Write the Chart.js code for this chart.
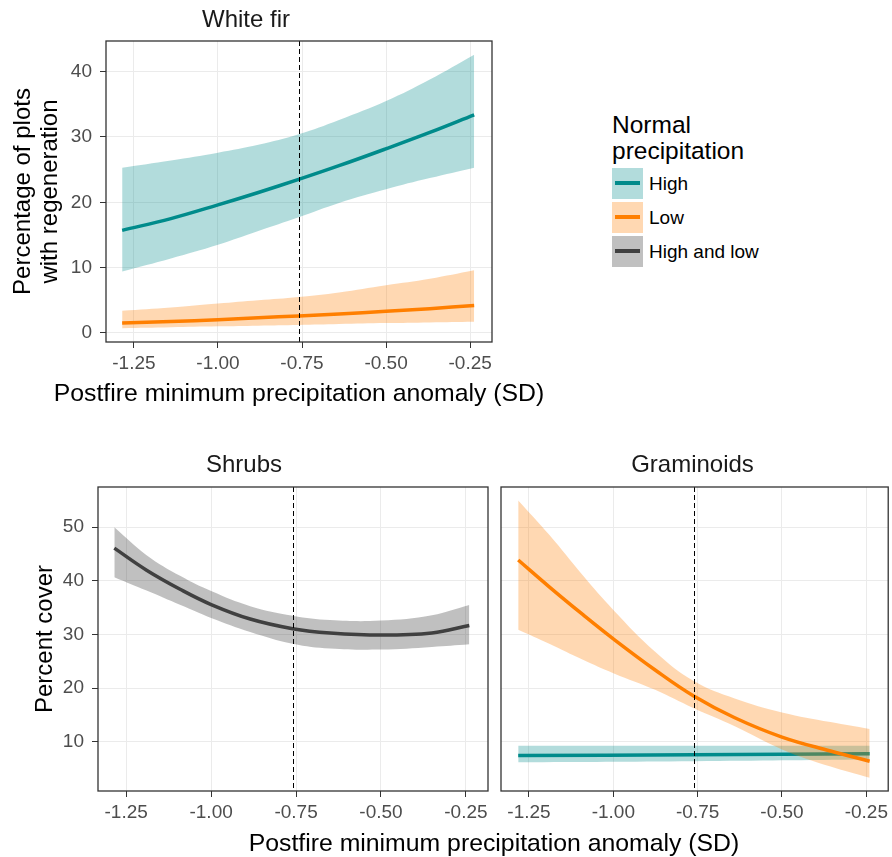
<!DOCTYPE html>
<html>
<head>
<meta charset="utf-8">
<script src="https://cdn.jsdelivr.net/npm/chart.js@4.4.1/dist/chart.umd.min.js"></script>
<style>
  body { margin: 0; background: #fff; font-family: "Liberation Sans", Arial, sans-serif; }
  #page { position: relative; width: 892px; height: 857px; overflow: hidden; }
  canvas { position: absolute; }
  #legend { position: absolute; left: 612px; top: 112px; color: #000; }
  #legend .lt { font-size: 24.5px; line-height: 26px; margin-bottom: 4px; }
  #legend .row { display: flex; align-items: center; height: 31px; margin-bottom: 3px; }
  #legend .key { position: relative; width: 31px; height: 31px; }
  #legend .key span { position: absolute; left: 3px; top: 13px; width: 25px; height: 4px; }
  #legend .lab { font-size: 19px; margin-left: 6px; }
  .xtitle { position: absolute; transform: translateX(-50%);
            font-size: 24.8px; line-height: 28px; white-space: nowrap; color: #000; }
</style>
</head>
<body>
<div id="page">
  <canvas id="fir" width="520" height="410" style="left:0;top:0"></canvas>
  <canvas id="shrubs" width="494" height="417" style="left:0;top:440px"></canvas>
  <canvas id="gram" width="398" height="417" style="left:494px;top:440px"></canvas>
  <div id="legend"></div>
  <div class="xtitle" style="left:299px;top:379px">Postfire minimum precipitation anomaly (SD)</div>
  <div class="xtitle" style="left:494px;top:829px">Postfire minimum precipitation anomaly (SD)</div>
</div>
<script>
// ---- data ----
const seriesNames = [ 'High', 'Low', 'High and low' ];
const xTicks = [ -1.25, -1.00, -0.75, -0.50, -0.25 ];
const firYTicks = [ 0, 10, 20, 30, 40 ];
const coverYTicks = [ 10, 20, 30, 40, 50 ];
const dashX = -0.76;

// White fir
const firX = [ -1.285, -1.14, -1.00, -0.88, -0.76, -0.64, -0.50, -0.37, -0.238 ];
const firHighMean  = [ 15.7, 17.5, 19.6, 21.5, 23.5, 25.6, 28.2, 30.7, 33.4 ];
const firHighLower = [ 9.4, 11.4, 13.5, 15.6, 17.7, 19.9, 22.0, 23.7, 25.3 ];
const firHighUpper = [ 25.3, 26.4, 27.6, 28.8, 30.4, 32.6, 35.5, 38.8, 42.6 ];
const firLowMean   = [ 1.5, 1.75, 2.0, 2.3, 2.6, 2.9, 3.3, 3.7, 4.2 ];
const firLowLower  = [ 0.7, 0.85, 1.0, 1.1, 1.2, 1.35, 1.5, 1.6, 1.7 ];
const firLowUpper  = [ 3.4, 3.9, 4.5, 5.0, 5.5, 6.2, 7.3, 8.3, 9.6 ];

// Shrubs
const shrubX = [ -1.285, -1.19, -1.09, -1.00, -0.885, -0.76, -0.65, -0.50, -0.35, -0.24 ];
const shrubMean  = [ 46.1, 42.0, 38.4, 35.6, 32.9, 31.1, 30.3, 29.9, 30.3, 31.7 ];
const shrubLower = [ 40.7, 38.2, 35.5, 33.1, 30.5, 28.3, 27.4, 27.2, 27.7, 28.2 ];
const shrubUpper = [ 50.0, 44.8, 40.9, 38.1, 35.3, 33.5, 32.7, 32.6, 33.6, 35.5 ];

// Graminoids
const gramLowX = [ -1.282, -1.19, -1.09, -1.00, -0.876, -0.763, -0.64, -0.50, -0.356, -0.24 ];
const gramLowMean  = [ 43.9, 38.9, 33.7, 29.2, 23.4, 18.6, 14.5, 10.9, 8.3, 6.4 ];
const gramLowLower = [ 30.9, 28.3, 25.3, 22.8, 19.7, 16.3, 12.9, 8.6, 5.4, 3.3 ];
const gramLowUpper = [ 55.0, 48.6, 41.0, 34.6, 26.8, 21.4, 18.1, 15.5, 13.7, 12.4 ];
const gramHighX = [ -1.282, -0.76, -0.24 ];
const gramHighMean  = [ 7.45, 7.6, 7.8 ];
const gramHighLower = [ 6.2, 6.4, 6.7 ];
const gramHighUpper = [ 9.3, 9.3, 9.3 ];

// ---- colours ----
const lineColors = [ '#008b8b', '#ff7f00', '#404040' ];
const fillColors = [ 'rgba(0,139,139,0.3)', 'rgba(255,127,0,0.3)', 'rgba(64,64,64,0.33)' ];

Chart.defaults.font.family = '"Liberation Sans", Arial, sans-serif';

function pts( xs, ys ) {
    return xs.map( ( x, i ) => ( { x: x, y: ys[ i ] } ) );
}

// line + ribbon (upper fills down to lower)
function bandSets( xs, mean, lower, upper, k, order ) {
    let edge = {
        pointRadius: 0, borderWidth: 0, borderColor: 'rgba(0,0,0,0)', tension: 0.4,
    };
    return [
        { data: pts( xs, mean ), borderColor: lineColors[ k ], borderWidth: 3.5,
          pointRadius: 0, tension: 0.4, fill: false, order: order },
        Object.assign( { data: pts( xs, upper ), fill: '+1', backgroundColor: fillColors[ k ], order: order + 1 }, edge ),
        Object.assign( { data: pts( xs, lower ), fill: false, order: order + 2 }, edge ),
    ];
}

// full panel border and the dashed reference line
const panelBox = {
    id: 'panelBox',
    afterDatasetsDraw( chart, args, opts ) {
        let { ctx, chartArea: a } = chart;
        let px = chart.scales.x.getPixelForValue( opts.dashX );
        ctx.save();
        ctx.strokeStyle = '#000';
        ctx.lineWidth = 1;
        ctx.setLineDash( [ 5, 3 ] );
        ctx.beginPath();
        ctx.moveTo( Math.round( px ) + 0.5, a.top );
        ctx.lineTo( Math.round( px ) + 0.5, a.bottom );
        ctx.stroke();
        ctx.setLineDash( [] );
        ctx.strokeStyle = '#333';
        ctx.lineWidth = 1.3;
        ctx.strokeRect( a.left, a.top, a.right - a.left, a.bottom - a.top );
        ctx.restore();
    }
};

function xAxis( height ) {
    return {
        type: 'linear', min: -1.333, max: -0.185,
        afterBuildTicks: s => { s.ticks = xTicks.map( v => ( { value: v } ) ); },
        afterFit: s => { s.height = height; },
        ticks: { callback: v => v.toFixed( 2 ), color: '#4d4d4d', font: { size: 19 },
                 padding: 4, maxRotation: 0, autoSkip: false },
        grid: { color: '#ebebeb', tickColor: '#333', tickLength: 6 },
        border: { display: false },
    };
}

function yAxis( min, max, ticks, width, title, showLabels ) {
    return {
        type: 'linear', min: min, max: max,
        afterBuildTicks: s => { s.ticks = ticks.map( v => ( { value: v } ) ); },
        afterFit: s => { s.width = width; },
        ticks: { display: showLabels, color: '#4d4d4d', font: { size: 19 }, padding: 8 },
        grid: { color: '#ebebeb', tickColor: '#333', tickLength: 6, drawTicks: showLabels },
        border: { display: false },
        title: title || { display: false },
    };
}

function panel( id, titleText, titlePad, datasets, xScale, yScale, padRight ) {
    new Chart( document.getElementById( id ), {
        type: 'line',
        data: { datasets: datasets },
        options: {
            responsive: false, devicePixelRatio: 1, animation: false,
            layout: { padding: { left: 0, top: 0, bottom: 0, right: padRight } },
            plugins: {
                legend: { display: false },
                tooltip: { enabled: false },
                filler: { propagate: false },
                title: { display: true, text: titleText, color: '#1a1a1a',
                         font: { size: 24, weight: 'normal', lineHeight: '27px' }, padding: titlePad },
                panelBox: { dashX: dashX },
            },
            scales: { x: xScale, y: yScale },
        },
        plugins: [ panelBox ],
    } );
}

panel( 'fir', 'White fir', { top: 7, bottom: 7 },
    bandSets( firX, firLowMean, firLowLower, firLowUpper, 1, 0 )
        .concat( bandSets( firX, firHighMean, firHighLower, firHighUpper, 0, 3 ) ),
    xAxis( 68 ),
    yAxis( -1.4, 44.7, firYTicks, 106,
        { display: true, text: [ 'Percentage of plots', 'with regeneration' ], color: '#000',
          font: { size: 24, lineHeight: '27px' }, padding: { top: 9.5 } }, true ),
    28 );

panel( 'shrubs', 'Shrubs', { top: 12, bottom: 8 },
    bandSets( shrubX, shrubMean, shrubLower, shrubUpper, 2, 0 ),
    xAxis( 66 ),
    yAxis( 0.85, 57.5, coverYTicks, 98,
        { display: true, text: 'Percent cover', color: '#000',
          font: { size: 24, lineHeight: '28px' }, padding: { top: 31 } }, true ),
    6 );

panel( 'gram', 'Graminoids', { top: 12, bottom: 8 },
    bandSets( gramLowX, gramLowMean, gramLowLower, gramLowUpper, 1, 0 )
        .concat( bandSets( gramHighX, gramHighMean, gramHighLower, gramHighUpper, 0, 3 ) ),
    xAxis( 66 ),
    yAxis( 0.85, 57.5, coverYTicks, 7, null, false ),
    1 );

// legend
let legendHtml = '<div class="lt">Normal<br>precipitation</div>';
seriesNames.forEach( function( name, k ) {
    legendHtml += '<div class="row"><div class="key" style="background:' + fillColors[ k ] + '">'
        + '<span style="background:' + lineColors[ k ] + '"></span></div>'
        + '<div class="lab">' + name + '</div></div>';
} );
document.getElementById( 'legend' ).innerHTML = legendHtml;
</script>
</body>
</html>
